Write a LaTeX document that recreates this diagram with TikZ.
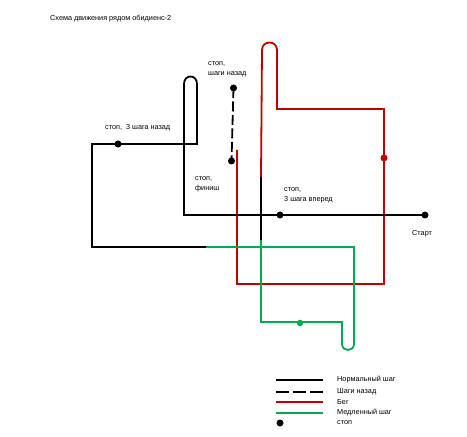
\documentclass[tikz,border=0pt]{standalone}
\usepackage{fontspec}
\setmainfont{Liberation Sans}
\definecolor{runred}{RGB}{192,0,0}
\definecolor{slowgreen}{RGB}{0,170,80}
\begin{document}
\begin{tikzpicture}[x=1bp,y=-1bp,
  lbl/.style={font=\fontsize{7.3}{10}\selectfont, inner sep=0pt, anchor=west, align=left},
  dotk/.style={circle, fill=black, inner sep=0pt, minimum size=7bp},
  dotr/.style={dotk, fill=runred},
  dotg/.style={dotk, fill=slowgreen, minimum size=6.5bp},
  normal/.style={line width=1.8bp, black},
  backstep/.style={normal, dash pattern=on 10bp off 3.5bp},
  run/.style={line width=1.8bp, runred},
  slow/.style={line width=1.8bp, slowgreen}]
\useasboundingbox[fill=white] (0,0) rectangle (467,437);

\node[lbl] (title) at (50,19) {Схема движения рядом обидиенс-2};

% path corner coordinates
\coordinate (a1) at (184,215);
\coordinate (a2) at (184,84);
\coordinate (a3) at (197,84);
\coordinate (a4) at (197,144);
\coordinate (a5) at (92,144);
\coordinate (a6) at (92,247);
\coordinate (a7) at (206,247);
\coordinate (b1) at (261,177);
\coordinate (b2) at (261,240);
\coordinate (r1) at (237,150);
\coordinate (r2) at (237,284);
\coordinate (r3) at (384,284);
\coordinate (r4) at (384,109);
\coordinate (r5) at (277,109);
\coordinate (r6) at (277,50);
\coordinate (r7) at (262,50);
\coordinate (g1) at (354,247);
\coordinate (g2) at (354,344);
\coordinate (g3) at (342,344);
\coordinate (g4) at (342,322);
\coordinate (g5) at (261,322);

% dots
\node[dotk] (start) at (425,215) {};
\node[dotk] (stop3f) at (280,215) {};
\node[dotk] (stop3b) at (118,144) {};
\node[dotk] (stopb) at (233.5,88) {};
\node[dotk] (finish) at (231.5,161) {};

% red path (run)
\draw[run] (r1) -- (r2) -- (r3) -- (r4) -- (r5) -- (r6)
  .. controls (277,40) and (262,40) .. (r7) -- (b1);
% green path (slow)
\draw[slow] (a7) -- (g1) -- (g2) .. controls (354,352) and (342,352) .. (g3)
  -- (g4) -- (g5) -- (b2);
% black path (normal)
\draw[normal] (start.center) -- (a1) -- (a2) .. controls (184,74) and (197,74) .. (a3)
  -- (a4) -- (a5) -- (a6) -- (a7);
\draw[normal] (b1) -- (b2);
% dashed (steps back)
\draw[backstep] (stopb.center) -- (finish.center);

\node[dotr] (rdot) at (384,158) {};
\node[dotg] (gdot) at (300,323) {};

% labels
\node[lbl] (l1) at (105,128) {стоп,\ \ 3 шага назад};
\node[lbl, anchor=north west] (l2) at (208,61.5) {стоп,\\шаги назад};
\node[lbl, anchor=north west] (l3) at (195,176.5) {стоп,\\финиш};
\node[lbl, anchor=north west] (l4) at (284,187.5) {стоп,\\3 шага вперед};
\node[lbl] (l5) at (412,234) {Старт};

% legend
\coordinate (k1a) at (276,380); \coordinate (k1b) at (323,380);
\coordinate (k2a) at (276,392); \coordinate (k2b) at (323,392);
\coordinate (k3a) at (276,402); \coordinate (k3b) at (323,402);
\coordinate (k4a) at (276,413); \coordinate (k4b) at (323,413);
\draw[normal] (k1a) -- (k1b);
\draw[normal, dash pattern=on 13bp off 4bp] (k2a) -- (k2b);
\draw[run] (k3a) -- (k3b);
\draw[slow] (k4a) -- (k4b);
\node[dotk] (k5) at (280,423) {};
\node[lbl] (t1) at (337,380) {Нормальный шаг};
\node[lbl] (t2) at (337,392) {Шаги назад};
\node[lbl] (t3) at (337,402) {Бег};
\node[lbl] (t4) at (337,413) {Медленный шаг};
\node[lbl] (t5) at (337,423) {стоп};
\end{tikzpicture}
\end{document}
